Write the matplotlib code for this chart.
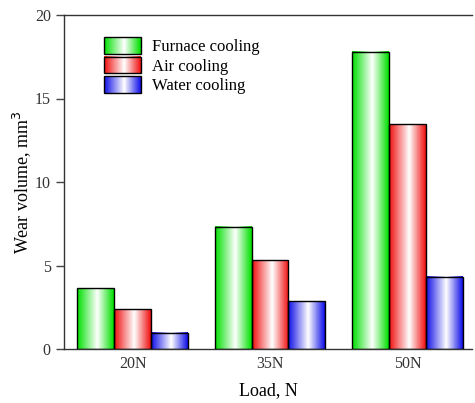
import numpy as np
import matplotlib
matplotlib.use("Agg")
import matplotlib.pyplot as plt
from matplotlib.colors import LinearSegmentedColormap
from matplotlib.image import BboxImage
from matplotlib.legend_handler import HandlerBase
from matplotlib.patches import Rectangle
from matplotlib.transforms import Bbox, TransformedBbox

plt.rcParams['font.family'] = ['Liberation Serif', 'DejaVu Serif']

# data
loads = ['20N', '35N', '50N']
series = ['Furnace cooling', 'Air cooling', 'Water cooling']
furnace = [3.64, 7.33, 17.79]
air = [2.38, 5.30, 13.45]
water = [0.98, 2.86, 4.34]
values = [furnace, air, water]
colors = ['#00e000', '#f01010', '#1010e8']

grad = np.linspace(0, 1, 64).reshape(1, -1)


def cmap_for(c):
    return LinearSegmentedColormap.from_list('g', [(0, c), (0.55, 'white'), (1, c)])


class GradHandler(HandlerBase):
    def __init__(self, color):
        super().__init__()
        self.color = color

    def create_artists(self, legend, orig_handle, xdescent, ydescent,
                       width, height, fontsize, trans):
        bb = TransformedBbox(Bbox.from_bounds(-xdescent, -ydescent, width, height), trans)
        img = BboxImage(bb, cmap=cmap_for(self.color), interpolation='bilinear')
        img.set_data(grad)
        rect = Rectangle((-xdescent, -ydescent), width, height, facecolor='none',
                         edgecolor='black', linewidth=1.0, transform=trans)
        return [img, rect]


fig = plt.figure(figsize=(4.75, 4.03), dpi=100)
ax = fig.add_axes([64 / 475, 54 / 403, 408 / 475, 334 / 403])

x = np.arange(len(loads))
w = 0.268
handles = []
for i, (name, vals, c) in enumerate(zip(series, values, colors)):
    bars = ax.bar(x + (i - 1) * w, vals, w, facecolor='none', edgecolor='black',
                  linewidth=1.0, zorder=3, label=name)
    for b in bars:
        x0, y0 = b.get_x(), b.get_y()
        ax.imshow(grad, cmap=cmap_for(c), aspect='auto', interpolation='bilinear',
                  extent=[x0, x0 + b.get_width(), y0, y0 + b.get_height()], zorder=2)
    handles.append(Rectangle((0, 0), 1, 1, label=name))

ax.set_xlim(-0.5, 2.47)
ax.set_ylim(0, 20)
ax.set_xticks(x)
ax.set_xticklabels(loads)
ax.set_yticks([0, 5, 10, 15, 20])
ax.tick_params(axis='x', length=0, pad=5, labelsize=11.5, labelcolor='#333333')
ax.tick_params(axis='y', direction='out', length=6, width=1, color='#444444',
               labelsize=11.5, labelcolor='#333333')
ax.spines['right'].set_visible(False)
for s in ['left', 'bottom', 'top']:
    ax.spines[s].set_color('#333333')
    ax.spines[s].set_linewidth(1.0)

ax.set_xlabel('Load, N', fontsize=13, labelpad=7)
ax.set_ylabel('Wear volume, mm$^3$', fontsize=13, labelpad=1)

hmap = {h: GradHandler(c) for h, c in zip(handles, colors)}
ax.legend(handles=handles, labels=series, handler_map=hmap, loc='upper left',
          bbox_to_anchor=(0.099, 0.934), borderaxespad=0, borderpad=0, frameon=False,
          fontsize=12, handlelength=2.2, handleheight=1.15, labelspacing=0.1,
          handletextpad=0.65)

fig.savefig('out.png', dpi=100)
